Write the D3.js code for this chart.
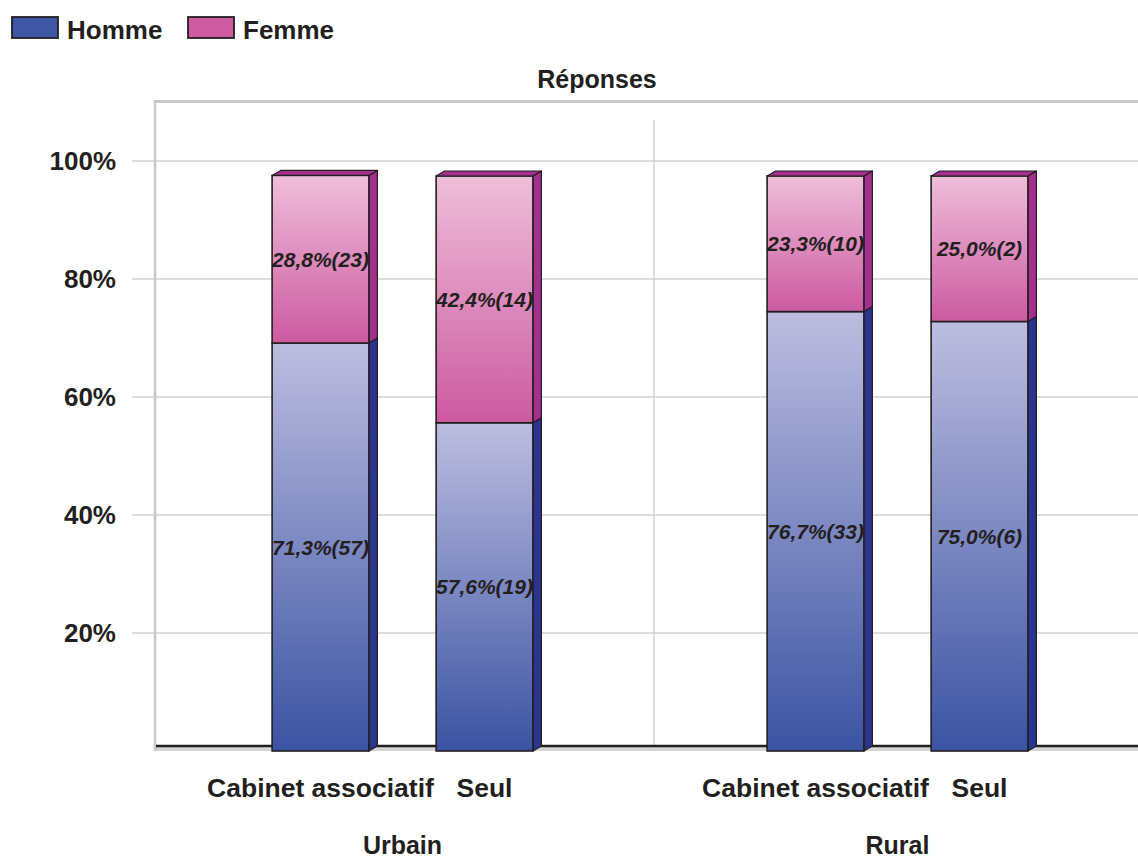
<!DOCTYPE html>
<html><head><meta charset="utf-8">
<script src="https://cdn.jsdelivr.net/npm/d3@7"></script>
<style>html,body{margin:0;padding:0;background:#fff}svg{display:block;font-family:"Liberation Sans",Arial,sans-serif}</style>
</head><body>
<svg id="c" width="1138" height="861"></svg>
<script>
const groups = ["Urbain", "Rural"];
const subcats = ["Cabinet associatif", "Seul"];
const series = ["Homme", "Femme"];
const hommePct = [71.3, 57.6, 76.7, 75.0];
const hommeN = [57, 19, 33, 6];
const femmePct = [28.8, 42.4, 23.3, 25.0];
const femmeN = [23, 14, 10, 2];
const yTicks = [20, 40, 60, 80, 100];
const title = "Réponses";

const svg = d3.select("#c");
const ink = "#231f20";
const W = 1138;
const y = d3.scaleLinear().domain([0, 100]).range([751, 161]);
const yBar = d3.scaleLinear().domain([0, 100]).range([758, 176]);
const xG = d3.scaleBand().domain(groups).range([159, 1149]);
const xS = d3.scaleBand().domain(subcats).range([-4, 491]).paddingInner(0.41).paddingOuter(0.714);
const DX = 8.5, DY = -5;

const defs = svg.append("defs");
function grad(id, top, bot) {
  const g = defs.append("linearGradient").attr("id", id).attr("x1", 0).attr("y1", 0).attr("x2", 0).attr("y2", 1);
  g.append("stop").attr("offset", 0).attr("stop-color", top);
  g.append("stop").attr("offset", 1).attr("stop-color", bot);
}
grad("gH", "#bdbde0", "#3b53a3");
grad("gF", "#efbed9", "#cc5aa0");
const front = {Homme: "url(#gH)", Femme: "url(#gF)"};
const side = {Homme: "#2b3590", Femme: "#a52f8c"};
const swatch = {Homme: "#3f55a5", Femme: "#cc5ba0"};

// back wall & grid
const grid = svg.append("g");
grid.selectAll("line.g").data(yTicks).join("line")
  .attr("x1", 132).attr("x2", W).attr("y1", d => y(d)).attr("y2", d => y(d))
  .attr("stroke", "#d2d2d2").attr("stroke-width", 1.6);
grid.append("line").attr("x1", 155).attr("x2", 155).attr("y1", 100).attr("y2", 751)
  .attr("stroke", "#c8c8c8").attr("stroke-width", 2.5);
grid.append("line").attr("x1", 154).attr("x2", W).attr("y1", 101.5).attr("y2", 101.5)
  .attr("stroke", "#c8c8c8").attr("stroke-width", 3);
grid.selectAll("line.sep").data(groups.slice(1)).join("line")
  .attr("x1", d => xG(d)).attr("x2", d => xG(d)).attr("y1", 120).attr("y2", 751)
  .attr("stroke", "#d2d2d2").attr("stroke-width", 1.5);
// floor
grid.append("rect").attr("x", 156).attr("y", 747).attr("width", W - 156).attr("height", 4).attr("fill", "#d4d4d4");
grid.append("line").attr("x1", 156).attr("x2", W).attr("y1", 746).attr("y2", 746)
  .attr("stroke", ink).attr("stroke-width", 2.5);

// y tick labels
svg.append("g").selectAll("text").data(yTicks).join("text")
  .attr("x", 116).attr("y", d => y(d)).attr("dy", "0.36em").attr("text-anchor", "end")
  .attr("font-size", 26).attr("font-weight", "bold").attr("fill", ink)
  .text(d => d + "%");

// bars
const rows = [];
groups.forEach((g, gi) => subcats.forEach((s, si) => {
  const i = gi * subcats.length + si;
  rows.push({g, s, i});
}));
const fmt = v => v.toFixed(1).replace(".", ",") + "%";
const bars = svg.append("g");
rows.forEach(r => {
  const x0 = xG(r.g) + xS(r.s), bw = xS.bandwidth(), x1 = x0 + bw;
  const segs = [
    {k: "Homme", a: 0, b: hommePct[r.i], lab: fmt(hommePct[r.i]) + "(" + hommeN[r.i] + ")"},
    {k: "Femme", a: hommePct[r.i], b: hommePct[r.i] + femmePct[r.i], lab: fmt(femmePct[r.i]) + "(" + femmeN[r.i] + ")"}
  ];
  segs.forEach(sg => {
    const yb = Math.min(yBar(sg.a), y(0)), yt = yBar(sg.b);
    sg.yb = yb; sg.yt = yt;
    bars.append("polygon")
      .attr("points", [[x1, yt], [x1 + DX, yt + DY], [x1 + DX, yb + DY], [x1, yb]].map(p => p.join(",")).join(" "))
      .attr("fill", side[sg.k]).attr("stroke", ink).attr("stroke-width", 1.2).attr("stroke-linejoin", "round");
    bars.append("rect").attr("x", x0).attr("y", yt).attr("width", bw).attr("height", yb - yt)
      .attr("fill", front[sg.k]).attr("stroke", ink).attr("stroke-width", 1.6);
  });
  const top = segs[1].yt;
  bars.append("polygon")
    .attr("points", [[x0, top], [x0 + DX, top + DY], [x1 + DX, top + DY], [x1, top]].map(p => p.join(",")).join(" "))
    .attr("fill", side.Femme).attr("stroke", ink).attr("stroke-width", 1.2).attr("stroke-linejoin", "round");
  segs.forEach(sg => {
    bars.append("text").attr("x", x0 + bw / 2).attr("y", (sg.yt + sg.yb) / 2).attr("dy", "0.36em")
      .attr("text-anchor", "middle").attr("font-size", 21).attr("font-weight", "bold").attr("font-style", "italic")
      .attr("fill", ink).text(sg.lab);
  });
  svg.append("text").attr("x", x0 + bw / 2).attr("y", 797).attr("text-anchor", "middle")
    .attr("font-size", 26.5).attr("font-weight", "bold").attr("fill", ink).text(r.s);
});

// group labels
svg.append("g").selectAll("text").data(groups).join("text")
  .attr("x", d => xG(d) + xG.bandwidth() / 2 - 4).attr("y", 854).attr("text-anchor", "middle")
  .attr("font-size", 25).attr("font-weight", "bold").attr("fill", ink).text(d => d);

// title
svg.append("text").attr("x", 597).attr("y", 88).attr("text-anchor", "middle")
  .attr("font-size", 25).attr("font-weight", "bold").attr("fill", ink).text(title);

// legend
const lgX = [12, 188];
const lg = svg.append("g").selectAll("g").data(series).join("g")
  .attr("transform", (d, i) => `translate(${lgX[i]},17)`);
lg.append("rect").attr("width", 46).attr("height", 21).attr("fill", d => swatch[d]).attr("stroke", ink).attr("stroke-width", 1.8);
lg.append("text").attr("x", 55).attr("y", 22).attr("font-size", 26).attr("font-weight", "bold").attr("fill", ink).text(d => d);
</script>
</body></html>
